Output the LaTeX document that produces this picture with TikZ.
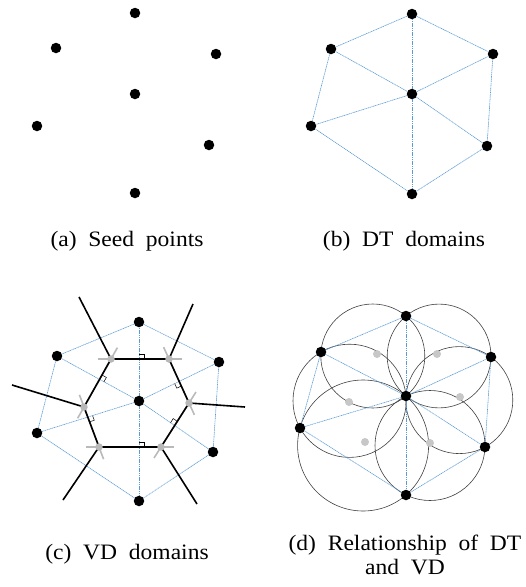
\documentclass[tikz,border=0pt]{standalone}
\usepackage{fontspec}
\setmainfont{Liberation Serif}
\newfontfamily\capfont[FakeStretch=1.07]{Liberation Serif}
\usetikzlibrary{calc}
\definecolor{dtblue}{RGB}{91,155,213}
\begin{document}
\begin{tikzpicture}[x=1pt,y=-1pt,
  dot/.style={circle, fill=black, inner sep=0pt, minimum size=10.5pt},
  vdot/.style={circle, fill=black!28, inner sep=0pt, minimum size=7.5pt},
  cdot/.style={circle, fill=black!22, inner sep=0pt, minimum size=8pt},
  dt/.style={draw=dtblue, line width=0.6pt, dash pattern=on 1.2pt off 0.6pt},
  vd/.style={draw=black, line width=1.6pt},
  ext/.style={draw=black!27, line width=1.6pt},
  rmark/.style={draw=black, line width=0.5pt},
  cc/.style={draw=black!75, line width=0.6pt},
  captext/.style={font=\capfont\fontsize{22}{24}\selectfont, align=center, inner sep=0pt}]
\useasboundingbox (0,0) rectangle (526,587);

% ---------- (a) seed points
\node[dot] (a1) at (135,13) {};
\node[dot] (a2) at (56,48) {};
\node[dot] (a3) at (216,54) {};
\node[dot] (a4) at (135,94) {};
\node[dot] (a5) at (37,126) {};
\node[dot] (a6) at (209,145) {};
\node[dot] (a7) at (135,193) {};
\node[captext] (capa) at (127,241) {(a)~ Seed~ points};

% ---------- (b) DT domains
\node[dot] (bT)  at (412,14) {};
\node[dot] (bUL) at (331,49) {};
\node[dot] (bUR) at (493,54) {};
\node[dot] (bC)  at (412,94) {};
\node[dot] (bL)  at (311,126) {};
\node[dot] (bLR) at (487,146) {};
\node[dot] (bB)  at (412,194) {};
\foreach \p/\q in {bT/bUL,bT/bUR,bUR/bLR,bLR/bB,bB/bL,bL/bUL,bC/bT,bC/bUL,bC/bUR,bC/bL,bC/bLR,bC/bB}
  \draw[dt] (\p) -- (\q);
\node[captext] (capb) at (404,241) {(b)~ DT~ domains};

% ---------- (c) VD domains
\coordinate (cTp)  at (139,322);
\coordinate (cULp) at (57,356);
\coordinate (cURp) at (219,362);
\coordinate (cCp)  at (139,401);
\coordinate (cLp)  at (37,433);
\coordinate (cLRp) at (213,452);
\coordinate (cBp)  at (139,501);
\coordinate (v1) at (111,359);
\coordinate (v2) at (169,359);
\coordinate (v3) at (189,403);
\coordinate (v4) at (161,447);
\coordinate (v5) at (99,447);
\coordinate (v6) at (84,407);
\coordinate (r1) at (79,297);
\coordinate (r2) at (193,304);
\coordinate (r3) at (245,407);
\coordinate (r4) at (197,504);
\coordinate (r5) at (63,500);
\coordinate (r6) at (12,385);
\foreach \p/\q in {cTp/cULp,cTp/cURp,cURp/cLRp,cLRp/cBp,cBp/cLp,cLp/cULp,cCp/cTp,cCp/cULp,cCp/cURp,cCp/cLp,cCp/cLRp,cCp/cBp}
  \draw[dt] (\p) -- (\q);
\foreach \p/\q in {v1/v2,v2/v3,v3/v4,v4/v5,v5/v6,v6/v1}
  \draw[ext] ($(\p)!-13pt!(\q)$) -- ($(\q)!-13pt!(\p)$);
\draw[vd] (v1) -- (v2) -- (v3) -- (v4) -- (v5) -- (v6) -- cycle;
\foreach \i in {1,...,6}
  \draw[vd] (v\i) -- (r\i);
\foreach \i in {1,...,6}
  \node[vdot] (gv\i) at (v\i) {};
\foreach \a/\b/\o/\t/\s in {v1/v2/cTp/v2/cTp, v2/v3/cURp/v3/cCp, v3/v4/cLRp/v3/cCp,
                          v4/v5/cBp/v4/cCp, v5/v6/cLp/v5/cCp, v6/v1/cULp/v1/cCp}{
  \edef\mkint{\noexpand\coordinate (I) at (intersection of \a--\b\space and cCp--\o);}
  \mkint
  \coordinate (MA) at ($(I)!5pt!(\t)$);
  \coordinate (MS) at ($(I)!5pt!(\s)$);
  \draw[rmark] (MA) -- ($(MA)+(MS)-(I)$) -- (MS);
}
\node[dot] (cT)  at (cTp) {};
\node[dot] (cUL) at (cULp) {};
\node[dot] (cUR) at (cURp) {};
\node[dot] (cC)  at (cCp) {};
\node[dot] (cL)  at (cLp) {};
\node[dot] (cLR) at (cLRp) {};
\node[dot] (cB)  at (cBp) {};
\node[captext] (capc) at (127,554) {(c)~ VD~ domains};

% ---------- (d) Relationship of DT and VD
\coordinate (dTp)  at (406,316);
\coordinate (dULp) at (321,352);
\coordinate (dURp) at (491,357);
\coordinate (dCp)  at (406,396);
\coordinate (dLp)  at (300,428);
\coordinate (dLRp) at (485,447);
\coordinate (dBp)  at (406,495);
\draw[cc] (372.8,356) circle[radius=52pt];
\draw[cc] (439.1,356) circle[radius=51.9pt];
\draw[cc] (459.3,400.1) circle[radius=53.5pt];
\draw[cc] (430,445.5) circle[radius=55pt];
\draw[cc] (363.1,445.5) circle[radius=65.5pt];
\draw[cc] (349.6,400.8) circle[radius=56.6pt];
\foreach \p/\q in {dTp/dULp,dTp/dURp,dURp/dLRp,dLRp/dBp,dBp/dLp,dLp/dULp,dCp/dTp,dCp/dULp,dCp/dURp,dCp/dLp,dCp/dLRp,dCp/dBp}
  \draw[dt] (\p) -- (\q);
\node[cdot] (g1) at (377,354) {};
\node[cdot] (g2) at (437,354) {};
\node[cdot] (g3) at (460,397) {};
\node[cdot] (g4) at (430,443) {};
\node[cdot] (g5) at (365,442) {};
\node[cdot] (g6) at (349,402) {};
\node[dot] (dT)  at (dTp) {};
\node[dot] (dUL) at (dULp) {};
\node[dot] (dUR) at (dURp) {};
\node[dot] (dC)  at (dCp) {};
\node[dot] (dL)  at (dLp) {};
\node[dot] (dLR) at (dLRp) {};
\node[dot] (dB)  at (dBp) {};
\node[captext] (capd) at (405,555) {(d)~ Relationship~ of~ DT\\ and~ VD};
\end{tikzpicture}
\end{document}
